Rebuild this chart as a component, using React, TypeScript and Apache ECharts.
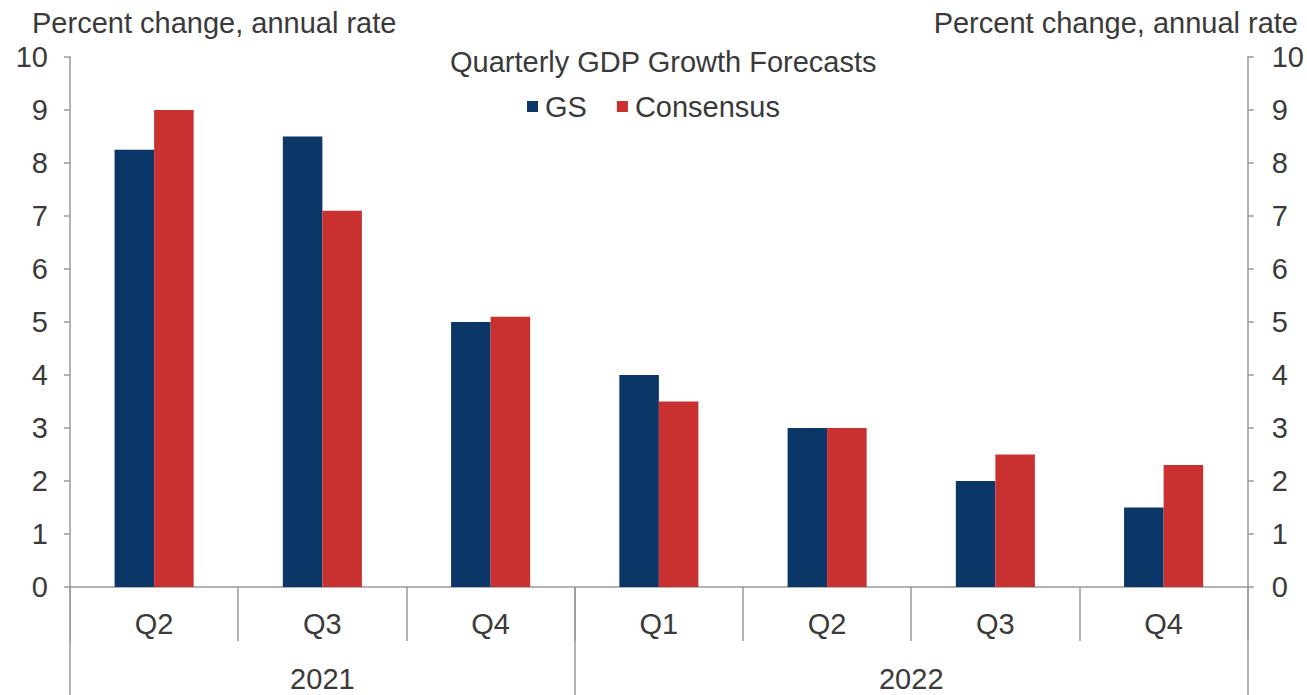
import React, { useEffect, useRef } from "react";
import * as echarts from "echarts";

const quarters = ["Q2", "Q3", "Q4", "Q1", "Q2", "Q3", "Q4"];
const years = ["2021", "2022"];
const yearSpans = [3, 4];
const gsValues = [8.25, 8.5, 5.0, 4.0, 3.0, 2.0, 1.5];
const consensusValues = [9.0, 7.1, 5.1, 3.5, 3.0, 2.5, 2.3];
const seriesNames = ["GS", "Consensus"];
const axisTitle = "Percent change, annual rate";
const chartTitle = "Quarterly GDP Growth Forecasts";
const yMin = 0;
const yMax = 10;
const yStep = 1;

const FONT = "'Liberation Sans', Arial, sans-serif";
const FS = 29;
const TEXT = "#3a3a3a";
const AXIS = "#9a9a9a";

function buildYearAxis() {
  // half-quarter slots: points 0..2*n
  const n = quarters.length;
  const data: string[] = new Array(2 * n + 1).fill("");
  const boundaries: number[] = [0];
  let start = 0;
  years.forEach((y, i) => {
    data[2 * start + yearSpans[i]] = y;
    start += yearSpans[i];
    boundaries.push(2 * start);
  });
  return { data, boundaries };
}

export default function App() {
  const ref = useRef<HTMLDivElement>(null);
  useEffect(() => {
    if (!ref.current) return;
    const chart = echarts.init(ref.current, undefined, { renderer: "svg" });
    const yearAxis = buildYearAxis();
    const yAxisCommon = {
      type: "value",
      min: yMin,
      max: yMax,
      interval: yStep,
      splitLine: { show: false },
      axisLine: { show: true, lineStyle: { color: AXIS, width: 1.5 } },
      axisTick: { show: true, length: 6, lineStyle: { color: AXIS, width: 1.5 } },
    };
    const titleStyle = { fontFamily: FONT, fontSize: FS, fontWeight: "normal", color: TEXT };
    chart.setOption({
      animation: false,
      backgroundColor: "#ffffff",
      textStyle: { fontFamily: FONT },
      title: [
        { text: chartTitle, left: 450, top: 47, padding: 0, textStyle: titleStyle },
        { text: axisTitle, left: 32, top: 8, padding: 0, textStyle: titleStyle },
        { text: axisTitle, right: 9, top: 8, padding: 0, textStyle: titleStyle },
      ],
      legend: {
        data: seriesNames,
        left: 527,
        top: 92,
        padding: 0,
        icon: "rect",
        itemWidth: 11,
        itemHeight: 11,
        itemGap: 30,
        textStyle: { fontFamily: FONT, fontSize: FS, color: TEXT, padding: [0, 0, 0, 2] },
      },
      grid: { left: 70, right: 57, top: 57, bottom: 108, containLabel: false },
      xAxis: [
        {
          type: "category",
          data: quarters,
          position: "bottom",
          axisLine: { show: true, lineStyle: { color: AXIS, width: 1.5 } },
          axisTick: { show: true, interval: 0, length: 54, lineStyle: { color: AXIS, width: 1.5 } },
          axisLabel: { interval: 0, margin: 22, fontSize: FS, color: TEXT, fontFamily: FONT },
        },
        {
          type: "category",
          data: yearAxis.data,
          boundaryGap: false,
          position: "bottom",
          axisLine: { show: false },
          axisTick: {
            show: true,
            interval: (i: number) => yearAxis.boundaries.includes(i),
            length: 110,
            lineStyle: { color: AXIS, width: 1.5 },
          },
          axisLabel: { interval: 0, margin: 77, fontSize: FS, color: TEXT, fontFamily: FONT },
        },
      ],
      yAxis: [
        {
          ...yAxisCommon,
          position: "left",
          axisLabel: { margin: 22, fontSize: FS, color: TEXT, fontFamily: FONT },
        },
        {
          ...yAxisCommon,
          position: "right",
          axisLabel: { margin: 24, fontSize: FS, color: TEXT, fontFamily: FONT },
        },
      ],
      series: [
        {
          name: seriesNames[0],
          type: "bar",
          data: gsValues,
          xAxisIndex: 0,
          yAxisIndex: 0,
          barGap: "0%",
          barCategoryGap: "53%",
          itemStyle: { color: "#0b3768" },
        },
        {
          name: seriesNames[1],
          type: "bar",
          data: consensusValues,
          xAxisIndex: 0,
          yAxisIndex: 0,
          barGap: "0%",
          barCategoryGap: "53%",
          itemStyle: { color: "#c8312f" },
        },
      ],
    });
    return () => chart.dispose();
  }, []);
  return (
    <div
      ref={ref}
      style={{ position: "absolute", left: 0, top: 0, width: 1307, height: 695 }}
    />
  );
}
